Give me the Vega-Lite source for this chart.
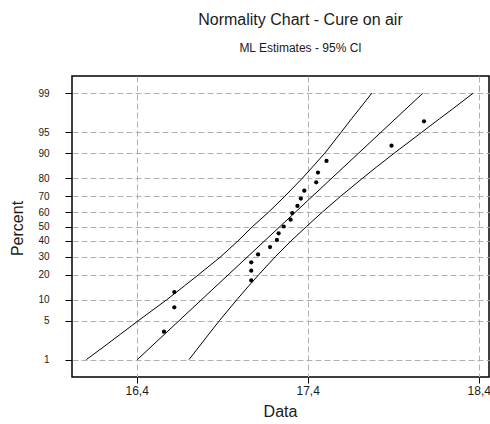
{
  "$schema": "https://vega.github.io/schema/vega-lite/v6.json",
  "width": 417,
  "height": 301,
  "autosize": "none",
  "padding": {"left": 72, "top": 76, "right": 1, "bottom": 47},
  "background": "white",
  "title": {
    "text": "Normality Chart - Cure on air",
    "subtitle": "ML Estimates - 95% CI",
    "anchor": "middle",
    "dx": 20,
    "offset": 22,
    "font": "Liberation Sans",
    "fontSize": 16,
    "fontWeight": "normal",
    "color": "#1a1a1a",
    "subtitleFont": "Liberation Sans",
    "subtitleFontSize": 12,
    "subtitleColor": "#1a1a1a",
    "subtitlePadding": 15
  },
  "config": {
    "view": {"stroke": "black", "strokeWidth": 1.5},
    "axis": {
      "domain": false,
      "grid": true,
      "gridColor": "#b0b0b0",
      "gridDash": [6, 3],
      "gridWidth": 1,
      "tickColor": "black",
      "tickWidth": 1,
      "labelFont": "Liberation Sans",
      "labelColor": "#1a1a1a",
      "titleFont": "Liberation Sans",
      "titleFontWeight": "normal",
      "titleColor": "#1a1a1a",
      "labelOverlap": false,
      "labelFlush": false
    }
  },
  "datasets": {
    "points": [
      {"Data": 16.56, "Percent": 3.3},
      {"Data": 16.62, "Percent": 7.9},
      {"Data": 16.62, "Percent": 12.6},
      {"Data": 17.07, "Percent": 17.3},
      {"Data": 17.07, "Percent": 22.0},
      {"Data": 17.07, "Percent": 26.6},
      {"Data": 17.11, "Percent": 31.3},
      {"Data": 17.18, "Percent": 36.0},
      {"Data": 17.22, "Percent": 40.7},
      {"Data": 17.23, "Percent": 45.3},
      {"Data": 17.26, "Percent": 50.0},
      {"Data": 17.30, "Percent": 54.7},
      {"Data": 17.31, "Percent": 59.3},
      {"Data": 17.34, "Percent": 64.0},
      {"Data": 17.36, "Percent": 68.7},
      {"Data": 17.38, "Percent": 73.4},
      {"Data": 17.45, "Percent": 78.0},
      {"Data": 17.46, "Percent": 82.7},
      {"Data": 17.51, "Percent": 87.4},
      {"Data": 17.89, "Percent": 92.1},
      {"Data": 18.08, "Percent": 96.7}
    ],
    "curves": [
      {"curve": "lower", "Percent": 1, "Data": 16.106},
      {"curve": "lower", "Percent": 2, "Data": 16.229},
      {"curve": "lower", "Percent": 3, "Data": 16.306},
      {"curve": "lower", "Percent": 5, "Data": 16.410},
      {"curve": "lower", "Percent": 10, "Data": 16.575},
      {"curve": "lower", "Percent": 15, "Data": 16.680},
      {"curve": "lower", "Percent": 20, "Data": 16.762},
      {"curve": "lower", "Percent": 30, "Data": 16.893},
      {"curve": "lower", "Percent": 40, "Data": 16.992},
      {"curve": "lower", "Percent": 50, "Data": 17.078},
      {"curve": "lower", "Percent": 60, "Data": 17.172},
      {"curve": "lower", "Percent": 70, "Data": 17.265},
      {"curve": "lower", "Percent": 80, "Data": 17.368},
      {"curve": "lower", "Percent": 85, "Data": 17.427},
      {"curve": "lower", "Percent": 90, "Data": 17.500},
      {"curve": "lower", "Percent": 95, "Data": 17.595},
      {"curve": "lower", "Percent": 97, "Data": 17.656},
      {"curve": "lower", "Percent": 98, "Data": 17.702},
      {"curve": "lower", "Percent": 99, "Data": 17.774},
      {"curve": "fit", "Percent": 1, "Data": 16.404},
      {"curve": "fit", "Percent": 50, "Data": 17.238},
      {"curve": "fit", "Percent": 99, "Data": 18.072},
      {"curve": "upper", "Percent": 1, "Data": 16.706},
      {"curve": "upper", "Percent": 2, "Data": 16.777},
      {"curve": "upper", "Percent": 3, "Data": 16.822},
      {"curve": "upper", "Percent": 5, "Data": 16.884},
      {"curve": "upper", "Percent": 10, "Data": 16.985},
      {"curve": "upper", "Percent": 15, "Data": 17.056},
      {"curve": "upper", "Percent": 20, "Data": 17.114},
      {"curve": "upper", "Percent": 30, "Data": 17.212},
      {"curve": "upper", "Percent": 40, "Data": 17.302},
      {"curve": "upper", "Percent": 50, "Data": 17.393},
      {"curve": "upper", "Percent": 60, "Data": 17.486},
      {"curve": "upper", "Percent": 70, "Data": 17.591},
      {"curve": "upper", "Percent": 80, "Data": 17.720},
      {"curve": "upper", "Percent": 85, "Data": 17.801},
      {"curve": "upper", "Percent": 90, "Data": 17.906},
      {"curve": "upper", "Percent": 95, "Data": 18.066},
      {"curve": "upper", "Percent": 97, "Data": 18.170},
      {"curve": "upper", "Percent": 98, "Data": 18.247},
      {"curve": "upper", "Percent": 99, "Data": 18.366}
    ]
  },
  "encoding": {
    "x": {
      "field": "Data",
      "type": "quantitative",
      "scale": {"domain": [16.022, 18.46], "nice": false, "zero": false},
      "axis": {
        "title": "Data",
        "titleFontSize": 16,
        "titleX": 208,
        "titleY": 34,
        "titleBaseline": "middle",
        "values": [16.4, 17.4, 18.4],
        "labelExpr": "replace(format(datum.value, '.1f'), '.', ',')",
        "labelFontSize": 12,
        "tickSize": 6,
        "labelPadding": 2
      }
    },
    "y": {
      "field": "probit",
      "type": "quantitative",
      "scale": {"domain": [-2.63, 2.63], "nice": false, "zero": false},
      "axis": {
        "title": "Percent",
        "titleFontSize": 16,
        "titleX": -55,
        "titleY": 152,
        "titleAngle": -90,
        "titleAlign": "center",
        "titleBaseline": "middle",
        "values": [-2.3263, -1.6449, -1.2816, -0.8416, -0.5244, -0.2533, 0, 0.2533, 0.5244, 0.8416, 1.2816, 1.6449, 2.3263],
        "labelExpr": "format(round(cumulativeNormal(datum.value) * 100), 'd')",
        "labelFontSize": 10,
        "tickSize": 7,
        "labelPadding": 16
      }
    }
  },
  "layer": [
    {
      "data": {"name": "curves"},
      "transform": [{"calculate": "quantileNormal(datum.Percent / 100)", "as": "probit"}],
      "mark": {"type": "line", "color": "black", "strokeWidth": 1, "clip": true},
      "encoding": {
        "detail": {"field": "curve", "type": "nominal"},
        "order": {"field": "Percent", "type": "quantitative"}
      }
    },
    {
      "data": {"name": "points"},
      "transform": [{"calculate": "quantileNormal(datum.Percent / 100)", "as": "probit"}],
      "mark": {"type": "circle", "color": "black", "size": 18, "opacity": 1}
    }
  ]
}
